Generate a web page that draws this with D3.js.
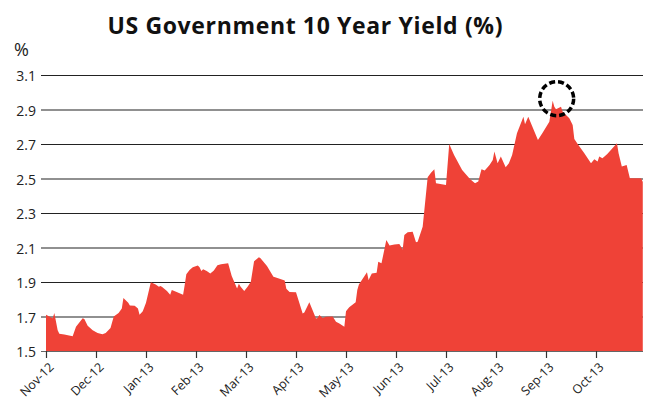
<!DOCTYPE html>
<html>
<head>
<meta charset="utf-8">
<script src="https://cdn.jsdelivr.net/npm/d3@7"></script>
<style>
  html, body { margin: 0; padding: 0; background: #fff; }
  svg { display: block; }
</style>
</head>
<body>
<svg id="chart" width="648" height="403"></svg>
<script>
// US 10-year Treasury yield, Nov 2012 - Oct 2013
const dates = [
  "2012-11-01","2012-11-03","2012-11-05","2012-11-06","2012-11-08","2012-11-09","2012-11-12","2012-11-17","2012-11-19","2012-11-23","2012-11-24","2012-11-26","2012-11-29",
  "2012-12-02","2012-12-05","2012-12-07","2012-12-10","2012-12-12","2012-12-15","2012-12-17","2012-12-18","2012-12-21","2012-12-22","2012-12-25","2012-12-27","2012-12-28","2012-12-30",
  "2013-01-01","2013-01-04","2013-01-07","2013-01-09","2013-01-10","2013-01-11","2013-01-14","2013-01-16","2013-01-17","2013-01-20","2013-01-24","2013-01-25","2013-01-26","2013-01-28","2013-01-30",
  "2013-02-02","2013-02-03","2013-02-04","2013-02-05","2013-02-07","2013-02-09","2013-02-11","2013-02-13","2013-02-15","2013-02-19","2013-02-21","2013-02-24","2013-02-25","2013-02-26","2013-02-28",
  "2013-03-02","2013-03-04","2013-03-06","2013-03-09","2013-03-10","2013-03-14","2013-03-18","2013-03-20","2013-03-25","2013-03-26","2013-03-28",
  "2013-04-01","2013-04-05","2013-04-06","2013-04-09","2013-04-13","2013-04-14","2013-04-15","2013-04-17","2013-04-19","2013-04-23","2013-04-25","2013-04-27","2013-04-30",
  "2013-05-01","2013-05-03","2013-05-07","2013-05-08","2013-05-09","2013-05-14","2013-05-15","2013-05-17","2013-05-20","2013-05-21","2013-05-23","2013-05-26","2013-05-28","2013-05-31",
  "2013-06-03","2013-06-05","2013-06-06","2013-06-08","2013-06-11","2013-06-13","2013-06-14","2013-06-17","2013-06-20","2013-06-22","2013-06-24","2013-06-25",
  "2013-07-01","2013-07-03","2013-07-06","2013-07-11","2013-07-16","2013-07-19","2013-07-21","2013-07-23","2013-07-25","2013-07-28","2013-07-30","2013-07-31",
  "2013-08-02","2013-08-04","2013-08-07","2013-08-09","2013-08-11","2013-08-14","2013-08-16","2013-08-18","2013-08-19","2013-08-21","2013-08-27","2013-08-30",
  "2013-09-03","2013-09-05","2013-09-06","2013-09-07","2013-09-10","2013-09-11","2013-09-15","2013-09-17","2013-09-18","2013-09-20","2013-09-24","2013-09-28","2013-09-30",
  "2013-10-02","2013-10-03","2013-10-05","2013-10-08","2013-10-14","2013-10-15","2013-10-17","2013-10-20","2013-10-22","2013-10-29","2013-10-30"
];

const yields = [
  1.71,1.70,1.69,1.72,1.62,1.60,1.595,1.585,1.64,1.69,1.686,1.646,1.62,
  1.605,1.597,1.605,1.634,1.70,1.72,1.747,1.807,1.78,1.764,1.762,1.747,1.71,1.731,
  1.78,1.898,1.885,1.873,1.877,1.871,1.848,1.826,1.853,1.842,1.826,1.883,1.945,1.97,1.985,
  1.995,1.985,1.964,1.974,1.964,1.949,1.966,1.997,2.003,2.009,1.935,1.863,1.89,1.873,1.848,
  1.873,1.902,2.02,2.044,2.038,1.993,1.931,1.925,1.908,1.861,1.842,
  1.84,1.717,1.723,1.783,1.688,1.692,1.708,1.692,1.698,1.70,1.669,1.659,1.64,
  1.731,1.753,1.782,1.854,1.886,1.956,1.912,1.95,1.954,2.018,2.008,2.143,2.111,2.118,
  2.12,2.089,2.172,2.188,2.192,2.13,2.134,2.221,2.507,2.534,2.553,2.472,
  2.462,2.70,2.636,2.549,2.495,2.472,2.482,2.553,2.546,2.578,2.607,2.656,
  2.588,2.627,2.565,2.588,2.636,2.762,2.81,2.858,2.814,2.858,2.723,2.766,
  2.829,2.951,2.916,2.901,2.916,2.887,2.849,2.81,2.729,2.70,2.646,2.588,2.611,
  2.598,2.627,2.617,2.642,2.704,2.646,2.569,2.578,2.501,2.501,2.48
];

const monthLabels = ["Nov-12","Dec-12","Jan-13","Feb-13","Mar-13","Apr-13","May-13","Jun-13","Jul-13","Aug-13","Sep-13","Oct-13"];
const yTicks = [1.5, 1.7, 1.9, 2.1, 2.3, 2.5, 2.7, 2.9, 3.1];

const titleText = "US Government 10 Year Yield (%)";
const unitText = "%";

// Each month gets an equal slot on the time axis
const parse = d3.timeParse("%Y-%m-%d");
function monthPos(s) {
  const d = parse(s);
  const yr = d.getFullYear(), m = d.getMonth();
  const days = new Date(yr, m + 1, 0).getDate();
  return (yr - 2012) * 12 + m - 10 + (d.getDate() - 1) / days;
}

const data = dates.map((s, i) => ({ t: monthPos(s), v: yields[i] }));

const svg = d3.select("#chart");
const plotLeft = 46, plotRight = 646, plotTop = 75, plotBottom = 351;
const gridStart = 41, gridEnd = 643;

const x = d3.scaleLinear().domain([0, 12]).range([plotLeft, plotRight]);
const y = d3.scaleLinear().domain([1.5, 3.1]).range([plotBottom, plotTop]);

// Title
svg.append("text")
  .attr("x", 305).attr("y", 34)
  .attr("text-anchor", "middle")
  .attr("font-family", "'Open Sans', sans-serif")
  .attr("font-weight", 700)
  .attr("font-size", 23)
  .attr("textLength", 395)
  .attr("lengthAdjust", "spacing")
  .attr("fill", "#111")
  .text(titleText);

svg.append("text")
  .attr("x", 14).attr("y", 56)
  .attr("font-family", "'Open Sans', sans-serif")
  .attr("font-size", 18)
  .attr("fill", "#222")
  .text(unitText);

// Horizontal gridlines with left tick labels
const yAxis = d3.axisLeft(y)
  .tickValues(yTicks)
  .tickSize(-(gridEnd - gridStart))
  .tickFormat(d3.format(".1f"));

const gy = svg.append("g")
  .attr("transform", `translate(${gridStart},0)`)
  .call(yAxis);
gy.select(".domain").remove();
gy.selectAll(".tick line").attr("stroke", "#222").attr("stroke-width", 1.2);
gy.selectAll(".tick text")
  .attr("x", -5)
  .attr("dy", "0.4em")
  .attr("font-family", "'Open Sans', sans-serif")
  .attr("font-size", 14)
  .attr("fill", "#222");

// Filled yield area
const area = d3.area()
  .x(d => x(d.t))
  .y0(y(1.5))
  .y1(d => y(d.v));

svg.append("path")
  .datum(data)
  .attr("d", area)
  .attr("fill", "#ef4237");

// Bottom axis with monthly ticks
const xAxis = d3.axisBottom(x)
  .tickValues(d3.range(monthLabels.length))
  .tickSize(7)
  .tickFormat(i => monthLabels[i]);

const gx = svg.append("g")
  .attr("transform", `translate(0,${plotBottom})`)
  .call(xAxis);
gx.select(".domain").attr("d", `M${gridStart},0.5H${gridEnd}`).attr("stroke", "#666").attr("stroke-width", 1.2);
gx.selectAll(".tick line").attr("stroke", "#333").attr("stroke-width", 1.2);
gx.selectAll(".tick text")
  .attr("font-family", "'Open Sans', sans-serif")
  .attr("font-size", 12.5)
  .attr("fill", "#222")
  .attr("text-anchor", "end")
  .attr("y", 0)
  .attr("dy", 0)
  .attr("transform", "translate(8,17) rotate(-45)");

// Dashed ring around the peak yield
const peak = data.reduce((a, b) => (b.v > a.v ? b : a));
svg.append("circle")
  .attr("cx", x(peak.t) + 4)
  .attr("cy", y(peak.v) - 2)
  .attr("r", 17)
  .attr("fill", "none")
  .attr("stroke", "#000")
  .attr("stroke-width", 3.5)
  .attr("stroke-dasharray", "6 3");
</script>
</body>
</html>
